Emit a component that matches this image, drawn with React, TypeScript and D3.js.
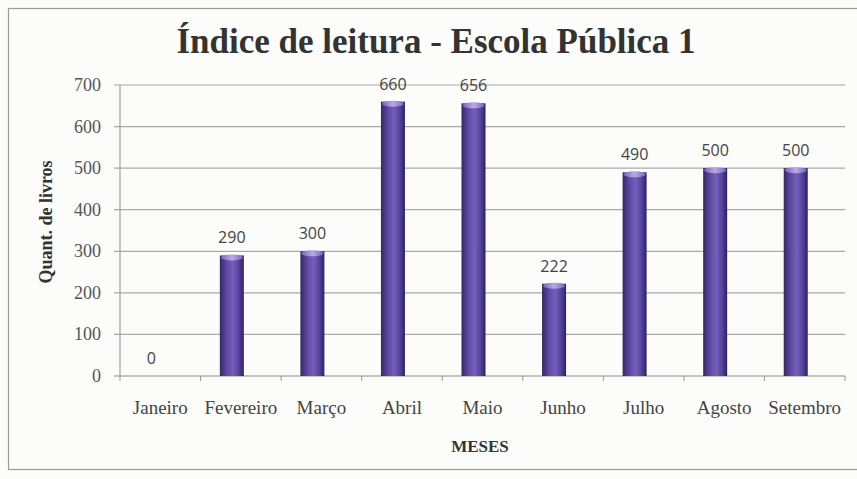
import React from "react";
import * as d3 from "d3";

const months = ["Janeiro", "Fevereiro", "Março", "Abril", "Maio", "Junho", "Julho", "Agosto", "Setembro"];
const books = [0, 290, 300, 660, 656, 222, 490, 500, 500];
const yTicks = [0, 100, 200, 300, 400, 500, 600, 700];
const title = "Índice de leitura - Escola Pública 1";
const yTitle = "Quant. de livros";
const xTitle = "MESES";

const W = 857;
const H = 479;
const M = { left: 120, right: 845, top: 85, bottom: 376 };

export default function App() {
  const x = d3.scaleBand<string>().domain(months).range([M.left, M.right]).padding(0);
  const y = d3.scaleLinear().domain([0, 700]).range([M.bottom, M.top]);
  const barW = 24;
  const serif = "'Liberation Serif', 'Times New Roman', serif";
  const sans = "'Open Sans', 'Liberation Sans', sans-serif";
  const off = -9;

  return (
    <svg width={W} height={H} style={{ position: "absolute", left: 0, top: 0 }}>
      <defs>
        <linearGradient id="barG" x1="0" x2="1" y1="0" y2="0">
          <stop offset="0" stopColor="#35276a" />
          <stop offset="0.3" stopColor="#5f4aa6" />
          <stop offset="0.55" stopColor="#7460bc" />
          <stop offset="0.8" stopColor="#54419a" />
          <stop offset="1" stopColor="#2e215c" />
        </linearGradient>
        <linearGradient id="capG" x1="0" x2="1" y1="0" y2="0">
          <stop offset="0" stopColor="#7a67b6" />
          <stop offset="0.5" stopColor="#b8aae6" />
          <stop offset="1" stopColor="#7a67b6" />
        </linearGradient>
      </defs>
      <rect x={0} y={0} width={W} height={H} fill="#fcfcfa" />
      <rect x={8.5} y={8.5} width={W} height={461} fill="none" stroke="#9a9a9a" strokeWidth={1.2} />
      <text x={436} y={53} textAnchor="middle" fontFamily={serif} fontWeight="bold" fontSize={35} fill="#333">
        {title}
      </text>
      {yTicks.map((t) => (
        <g key={t}>
          <line x1={M.left - 6} x2={M.right} y1={y(t)} y2={y(t)} stroke={t === 0 ? "#8a8a8a" : "#a8a8a8"} strokeWidth={1.2} />
          <text x={101} y={y(t) + 6} textAnchor="end" fontFamily={serif} fontSize={18} fill="#555">
            {t}
          </text>
        </g>
      ))}
      <line x1={M.left} x2={M.left} y1={M.top} y2={M.bottom} stroke="#a0a0a0" strokeWidth={1.2} />
      {months.map((m) => (
        <line key={"tk" + m} x1={x(m)! + x.bandwidth()} x2={x(m)! + x.bandwidth()} y1={M.bottom} y2={M.bottom + 5} stroke="#999" />
      ))}
      <line x1={M.left} x2={M.left} y1={M.bottom} y2={M.bottom + 5} stroke="#999" />
      {months.map((m, i) => {
        const cx = x(m)! + x.bandwidth() / 2 + off;
        const v = books[i];
        const top = y(v);
        return (
          <g key={m}>
            {v > 0 && (
              <>
                <rect x={cx - barW / 2} y={top} width={barW} height={M.bottom - top} fill="url(#barG)" />
                <ellipse cx={cx} cy={top + 2} rx={barW / 2 - 1} ry={3} fill="url(#capG)" />
              </>
            )}
            <text x={cx} y={top - 12} textAnchor="middle" fontFamily={sans} fontSize={16} fill="#444">
              {v}
            </text>
            <text x={x(m)! + x.bandwidth() / 2} y={414} textAnchor="middle" fontFamily={serif} fontSize={19} fill="#444">
              {m}
            </text>
          </g>
        );
      })}
      <text x={480} y={452} textAnchor="middle" fontFamily={serif} fontWeight="bold" fontSize={17} fill="#333">
        {xTitle}
      </text>
      <text
        transform={`translate(52,222) rotate(-90)`}
        textAnchor="middle"
        fontFamily={serif}
        fontWeight="bold"
        fontSize={18}
        fill="#333"
      >
        {yTitle}
      </text>
    </svg>
  );
}
